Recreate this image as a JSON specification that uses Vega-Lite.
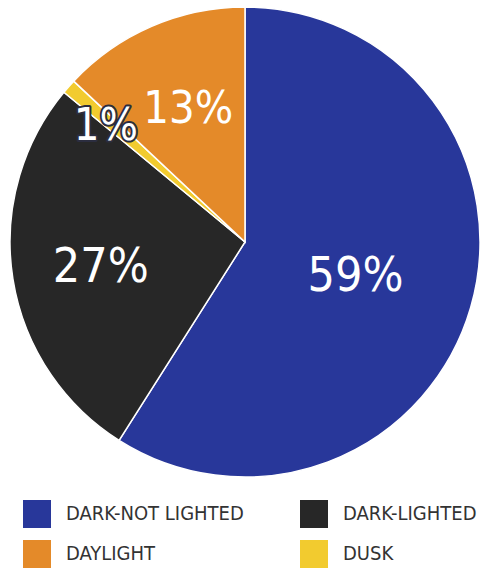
{
  "$schema": "https://vega.github.io/schema/vega-lite/v6.json",
  "width": 470,
  "height": 470,
  "autosize": {"type": "none"},
  "padding": {"left": 10, "top": 7, "right": 0, "bottom": 92},
  "background": "white",
  "data": {
    "values": [
      {"category": "DARK-NOT LIGHTED", "share": 0.59, "rank": 1},
      {"category": "DARK-LIGHTED", "share": 0.27, "rank": 2},
      {"category": "DUSK", "share": 0.01, "rank": 3},
      {"category": "DAYLIGHT", "share": 0.13, "rank": 4}
    ]
  },
  "encoding": {
    "theta": {"field": "share", "type": "quantitative", "stack": true},
    "order": {"field": "rank", "type": "quantitative"}
  },
  "layer": [
    {
      "mark": {"type": "arc", "stroke": "white", "strokeWidth": 1.5},
      "encoding": {
        "color": {
          "field": "category",
          "type": "nominal",
          "scale": {
            "domain": ["DARK-NOT LIGHTED", "DAYLIGHT", "DARK-LIGHTED", "DUSK"],
            "range": ["#28379A", "#E48A29", "#272727", "#F2CB2F"]
          },
          "legend": {
            "title": null,
            "orient": "none",
            "legendX": 13,
            "legendY": 493,
            "columns": 2,
            "symbolType": "square",
            "symbolSize": 784,
            "symbolStrokeWidth": 0,
            "symbolOpacity": 1,
            "labelFont": "DejaVu Sans Condensed",
            "labelFontSize": 20,
            "labelColor": "#333333",
            "labelOffset": 15,
            "labelLimit": 400,
            "rowPadding": 12,
            "columnPadding": 56
          }
        }
      }
    },
    {
      "mark": {"type": "text", "radius": 115, "font": "DejaVu Sans Condensed", "fontSize": 48, "fill": "white", "align": "center", "baseline": "middle", "dy": 3},
      "encoding": {
        "text": {"field": "share", "type": "quantitative", "format": ".0%"},
        "opacity": {"condition": {"test": "datum.category === 'DARK-NOT LIGHTED'", "value": 1}, "value": 0}
      }
    },
    {
      "mark": {"type": "text", "radius": 146, "font": "DejaVu Sans Condensed", "fontSize": 48, "fill": "white", "align": "center", "baseline": "middle", "dy": 3},
      "encoding": {
        "text": {"field": "share", "type": "quantitative", "format": ".0%"},
        "opacity": {"condition": {"test": "datum.category === 'DARK-LIGHTED'", "value": 1}, "value": 0}
      }
    },
    {
      "mark": {"type": "text", "radius": 148, "font": "DejaVu Sans Condensed", "fontSize": 45, "fill": "white", "align": "center", "baseline": "middle", "dy": 3, "dx": 2},
      "encoding": {
        "text": {"field": "share", "type": "quantitative", "format": ".0%"},
        "opacity": {"condition": {"test": "datum.category === 'DAYLIGHT'", "value": 1}, "value": 0}
      }
    },
    {
      "mark": {"type": "text", "radius": 180, "font": "DejaVu Sans Condensed", "fontSize": 45, "fill": "white", "stroke": "#2b2d3f", "strokeWidth": 4, "strokeJoin": "round", "align": "center", "baseline": "middle", "dy": 3, "dx": -4},
      "encoding": {
        "text": {"field": "share", "type": "quantitative", "format": ".0%"},
        "opacity": {"condition": {"test": "datum.category === 'DUSK'", "value": 1}, "value": 0}
      }
    },
    {
      "mark": {"type": "text", "radius": 180, "font": "DejaVu Sans Condensed", "fontSize": 45, "fill": "white", "align": "center", "baseline": "middle", "dy": 3, "dx": -4},
      "encoding": {
        "text": {"field": "share", "type": "quantitative", "format": ".0%"},
        "opacity": {"condition": {"test": "datum.category === 'DUSK'", "value": 1}, "value": 0}
      }
    }
  ]
}
